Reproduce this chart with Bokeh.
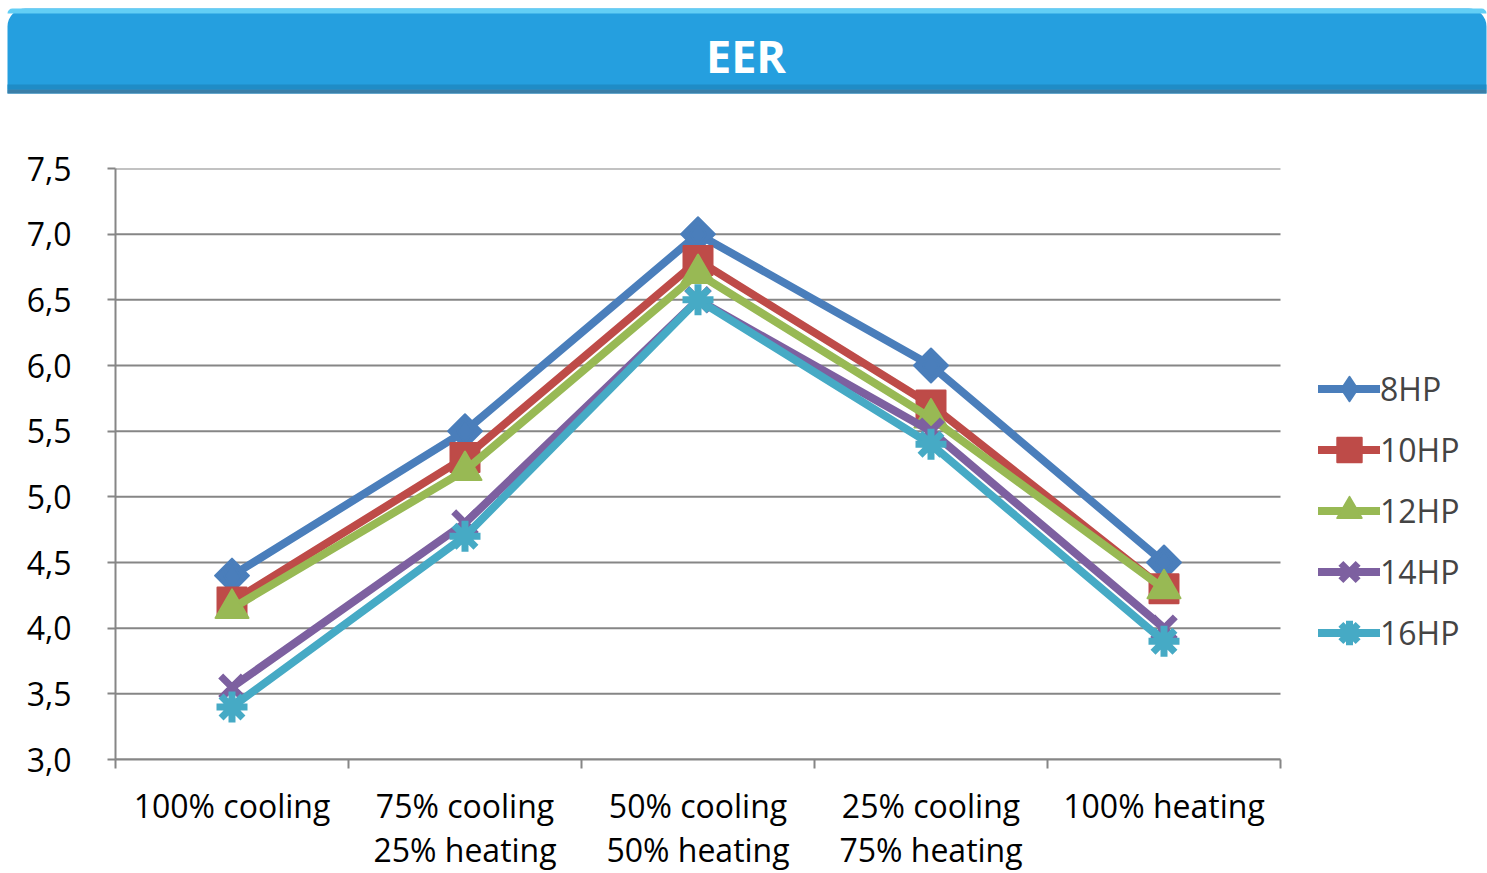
from bokeh.plotting import figure
from bokeh.models import Range1d, FixedTicker, Legend, LegendItem, BoxAnnotation, Label
from bokeh.layouts import column
from bokeh.embed import file_html
from bokeh.resources import INLINE

# ---- data ----
categories = ["100% cooling", "75% cooling\n25% heating", "50% cooling\n50% heating",
              "25% cooling\n75% heating", "100% heating"]
series_names = ["8HP", "10HP", "12HP", "14HP", "16HP"]
hp8 = [4.4, 5.5, 7.0, 6.0, 4.5]
hp10 = [4.2, 5.3, 6.8, 5.7, 4.3]
hp12 = [4.15, 5.2, 6.7, 5.6, 4.3]
hp14 = [3.55, 4.8, 6.5, 5.5, 4.0]
hp16 = [3.4, 4.7, 6.5, 5.4, 3.9]
y_ticks = [3.0, 3.5, 4.0, 4.5, 5.0, 5.5, 6.0, 6.5, 7.0, 7.5]
y_tick_labels = ["3,0", "3,5", "4,0", "4,5", "5,0", "5,5", "6,0", "6,5", "7,0", "7,5"]
title_text = "EER"

series_values = [hp8, hp10, hp12, hp14, hp16]
colors = ["#4A7EBB", "#BE4B48", "#98B954", "#7D60A0", "#46AAC5"]
markers = ["square", "square", "triangle", "x", "asterisk"]
legend_markers = ["diamond", "square", "triangle", "x", "asterisk"]
angles = [0.785398, 0, 0, 0, 0]
sizes = [24, 29, 33, 32, 31]
FONT = "Open Sans"
GRID = "#868686"

# ---- header ----
W = 1487
hdr = figure(width=W, height=100, x_range=Range1d(0, W), y_range=Range1d(100, 0),
             output_backend="svg", toolbar_location=None,
             x_axis_location=None, y_axis_location=None,
             min_border=0, outline_line_color=None)
hdr.frame_align = False
hdr.grid.visible = False
hdr.add_layout(BoxAnnotation(left=7, right=1486, top=8, bottom=93, fill_color="#259FDF",
                             fill_alpha=1, line_color=None, border_radius=(18, 18, 0, 0)))
hdr.add_layout(BoxAnnotation(left=7, right=1486, top=8, bottom=13, fill_color="#62CEF5",
                             fill_alpha=1, line_color=None, border_radius=(18, 18, 0, 0)))
hdr.add_layout(BoxAnnotation(left=7, right=1486, top=84, bottom=89, fill_color="#1F8CC6",
                             fill_alpha=1, line_color=None))
hdr.add_layout(BoxAnnotation(left=7, right=1486, top=89, bottom=93, fill_color="#3B7FA8",
                             fill_alpha=1, line_color=None))
hdr.add_layout(Label(x=W / 2 + 2, y=55, text=title_text, text_color="white",
                     text_font=FONT, text_font_style="bold", text_font_size="45px",
                     text_align="center", text_baseline="middle"))

# ---- main chart ----
n = len(categories)
left_border = 115
plot_w = 1165  # pixel width of the category area
x_end = n * (W - left_border) / plot_w  # frame extends to the right edge for the legend

p = figure(width=W, height=773, x_range=Range1d(0, x_end),
           y_range=Range1d(y_ticks[0], y_ticks[-1]),
           output_backend="svg", toolbar_location=None,
           min_border_left=left_border, min_border_right=0, min_border_top=68,
           min_border_bottom=113, outline_line_color=None)
p.frame_align = False

# horizontal grid lines limited to the category area
p.segment(x0=[0] * len(y_ticks), x1=[n] * len(y_ticks), y0=y_ticks, y1=y_ticks,
          line_color=GRID, line_width=2)

xs = [i + 0.5 for i in range(n)]
items = []
for name, vals, c, m, lm, a, s in zip(series_names, series_values, colors, markers,
                                      legend_markers, angles, sizes):
    lr = p.line(xs, vals, line_color=c, line_width=8, line_cap="round", line_join="round")
    lw = 7 if m in ("x", "asterisk") else 2
    sr = p.scatter(xs, vals, marker=m, size=s, angle=a, fill_color=c, line_color=c,
                   line_width=lw, line_join="round")
    if lm != m:
        # same points, shape that sits inside the rotated square; used for the legend
        leg_r = p.scatter(xs, vals, marker=lm, size=s, fill_color=c, line_color=c,
                          line_width=lw, line_join="round")
    else:
        leg_r = sr
    items.append(LegendItem(label=name, renderers=[lr, leg_r]))

# axes
p.xaxis.bounds = (0, n)
p.xaxis.ticker = FixedTicker(ticks=xs, minor_ticks=list(range(n + 1)))
p.xaxis.major_label_overrides = {x: c for x, c in zip(xs, categories)}
p.xaxis.major_tick_out = 0
p.xaxis.major_tick_in = 0
p.xaxis.minor_tick_out = 9
p.xaxis.minor_tick_in = 0
p.xaxis.minor_tick_line_color = GRID
p.xaxis.minor_tick_line_width = 2
p.xaxis.axis_line_color = GRID
p.xaxis.axis_line_width = 2
p.xaxis.major_label_standoff = 15
p.xaxis.major_label_text_font = FONT
p.xaxis.major_label_text_font_size = "32px"
p.xaxis.major_label_text_color = "black"
p.xaxis.major_label_text_line_height = 1.03

p.yaxis.ticker = FixedTicker(ticks=y_ticks, minor_ticks=[])
p.yaxis.major_label_overrides = {t: l for t, l in zip(y_ticks, y_tick_labels)}
p.yaxis.major_tick_out = 8
p.yaxis.major_tick_in = 0
p.yaxis.major_tick_line_color = GRID
p.yaxis.major_tick_line_width = 2
p.yaxis.axis_line_color = GRID
p.yaxis.axis_line_width = 2
p.yaxis.major_label_standoff = 36
p.yaxis.major_label_text_font = FONT
p.yaxis.major_label_text_font_size = "32px"
p.yaxis.major_label_text_color = "black"

p.xgrid.visible = False
p.ygrid.visible = False

legend = Legend(items=items, location=(1318 - left_border, 96), orientation="vertical",
                glyph_width=62, glyph_height=61, label_height=61, spacing=0,
                label_standoff=0, padding=0, margin=0,
                label_text_font=FONT, label_text_font_size="32px",
                background_fill_alpha=0, border_line_color=None)
p.add_layout(legend, "center")

layout = column(hdr, p, spacing=0)
open("out.html", "w").write(file_html(layout, INLINE))
